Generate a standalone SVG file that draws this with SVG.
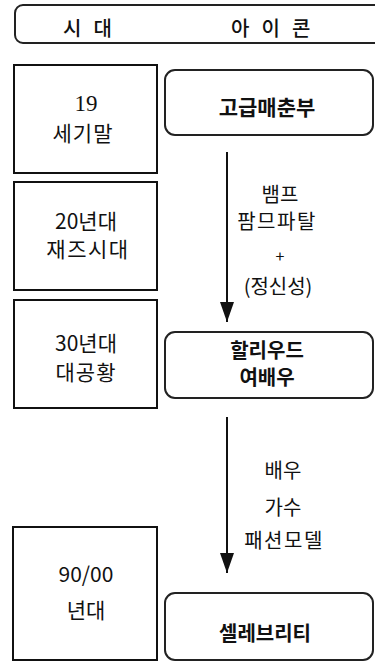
<svg xmlns="http://www.w3.org/2000/svg" width="375" height="666" viewBox="0 0 375 666">
<defs>
<style>
.box{fill:#fff;stroke:#111;stroke-width:2}
.rbox{fill:#fff;stroke:#222;stroke-width:2}
.t{font-family:"Noto Sans CJK KR","Noto Sans",sans-serif;font-size:21px;fill:#111;text-anchor:middle}
.l{font-family:"Noto Sans CJK KR","Noto Sans",sans-serif;font-size:20px;fill:#111;text-anchor:middle}
.b{font-family:"Noto Sans CJK KR","Noto Sans",sans-serif;font-size:21px;font-weight:bold;fill:#111;text-anchor:middle}
.h{font-family:"Noto Sans CJK KR","Noto Sans",sans-serif;font-size:20px;font-weight:500;fill:#111;letter-spacing:3.8px}
.conn{stroke:#111;stroke-width:2;fill:none}
</style>
<marker id="ah" markerWidth="20" markerHeight="14" refX="20" refY="7" orient="auto" markerUnits="userSpaceOnUse">
<path d="M0,0 L20,7 L0,14 Z" fill="#111"/>
</marker>
</defs>
<rect width="375" height="666" fill="#fff"/>
<g id="header">
<rect class="rbox" x="15" y="5" width="368" height="38" rx="8"/>
<text class="h" x="63" y="36">시 대</text>
<text class="h" x="231" y="36">아 이 콘</text>
</g>
<g id="era19">
<rect class="box" x="14" y="65" width="143" height="108"/>
<text class="t" x="86" y="111" style="font-family:'Liberation Serif',serif;font-size:23px">19</text>
<text class="t" x="83" y="141" style="letter-spacing:1px">세기말</text>
</g>
<g id="era20">
<rect class="box" x="14" y="182" width="143" height="108"/>
<text class="t" x="86" y="229">20년대</text>
<text class="t" x="88" y="257" style="letter-spacing:1.5px">재즈시대</text>
</g>
<g id="era30">
<rect class="box" x="14" y="300" width="143" height="108"/>
<text class="t" x="86" y="351">30년대</text>
<text class="t" x="86" y="380" style="letter-spacing:1px">대공황</text>
</g>
<g id="era90">
<rect class="box" x="13" y="527" width="144" height="133"/>
<text class="t" x="86" y="582">90/00</text>
<text class="t" x="86" y="618">년대</text>
</g>
<g id="icon1">
<rect class="rbox" x="165" y="70" width="208" height="65" rx="10"/>
<text class="b" x="267" y="115">고급매춘부</text>
</g>
<g id="icon2">
<rect class="rbox" x="165" y="332" width="208" height="66" rx="10"/>
<text class="b" x="267" y="358" style="font-size:20px">할리우드</text>
<text class="b" x="267" y="385" style="font-size:20px">여배우</text>
</g>
<g id="icon3">
<rect class="rbox" x="165" y="593" width="208" height="67" rx="10"/>
<text class="b" x="265" y="641" style="font-size:20px">셀레브리티</text>
</g>
<g id="connectors">
<line class="conn" x1="227" y1="152" x2="227" y2="322" marker-end="url(#ah)"/>
<line class="conn" x1="227" y1="417" x2="227" y2="573" marker-end="url(#ah)"/>
<text class="l" x="280" y="202">뱀프</text>
<text class="l" x="277" y="229" style="letter-spacing:1.5px">팜므파탈</text>
<text class="l" x="280" y="262" style="font-size:16px">+</text>
<text class="l" x="278" y="294">(정신성)</text>
<text class="l" x="283" y="478">배우</text>
<text class="l" x="283" y="515">가수</text>
<text class="l" x="284" y="548" style="letter-spacing:1.5px">패션모델</text>
</g>
</svg>
